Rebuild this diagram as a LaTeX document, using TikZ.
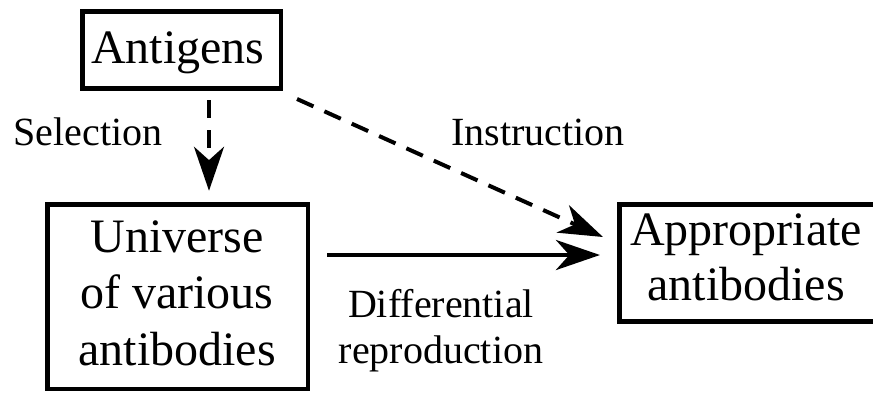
\documentclass[tikz,border=0pt]{standalone}
\usepackage{fontspec}
\setmainfont{Liberation Serif}
\newfontfamily\timesface{Liberation Serif}
\usetikzlibrary{arrows.meta}

\tikzset{
  box/.style={draw=black, line width=3.4pt, inner sep=0pt, fill=none},
  boxtext/.style={anchor=base, inner sep=0pt, font=\timesface\fontsize{36}{42}\selectfont},
  lbl/.style={anchor=base, inner sep=0pt, font=\timesface\fontsize{30}{35}\selectfont},
  bigtip/.style={-{Stealth[length=33pt, width=22.5pt, inset=10pt]}},
  dasharrow/.style={bigtip, line width=3pt, dash pattern=on 13.5pt off 9pt},
  solidarrow/.style={bigtip, line width=3.6pt},
}

\begin{document}
\begin{tikzpicture}[x=0.75pt, y=-0.75pt]
  \useasboundingbox (0,0) rectangle (873,393);
  \fill[white] (0,0) rectangle (873,393);

  % boxes (the right-hand one runs past the right margin)
  \node[box, minimum width=148.9pt, minimum height=58.1pt] (ant) at (181.5,50) {};
  \node[box, minimum width=195.4pt, minimum height=138.4pt] (univ) at (177.5,296.5) {};
  \node[box, minimum width=210pt, minimum height=88.1pt] (app) at (759.25,263) {};

  % box texts
  \node[boxtext] (antT) at (178,63) {Antigens};
  \node[boxtext] (univT1) at (177,252) {Universe};
  \node[boxtext] (univT2) at (177,308) {of various};
  \node[boxtext] (univT3) at (177,365) {antibodies};
  \node[boxtext] (appT1) at (746,245) {Appropriate};
  \node[boxtext] (appT2) at (746,300) {antibodies};

  % connector labels
  \node[lbl] (selL) at (88,145) {Selection};
  \node[lbl] (insL) at (538,145) {Instruction};
  \node[lbl] (difL1) at (441,317) {Differential};
  \node[lbl] (difL2) at (441,363) {reproduction};

  % connectors
  \coordinate (selx) at (209,0);
  \draw[dasharrow, shorten <=7pt, shorten >=8.4pt] (ant.south -| selx) -- (univ.north -| selx);
  \draw[dasharrow] ([shift={(14,8)}]ant.south east) -- ([shift={(-14,-26)}]app.west);
  \draw[solidarrow] ([shift={(17,-41.5)}]univ.east) -- ([shift={(-17,-8)}]app.west);
\end{tikzpicture}
\end{document}
